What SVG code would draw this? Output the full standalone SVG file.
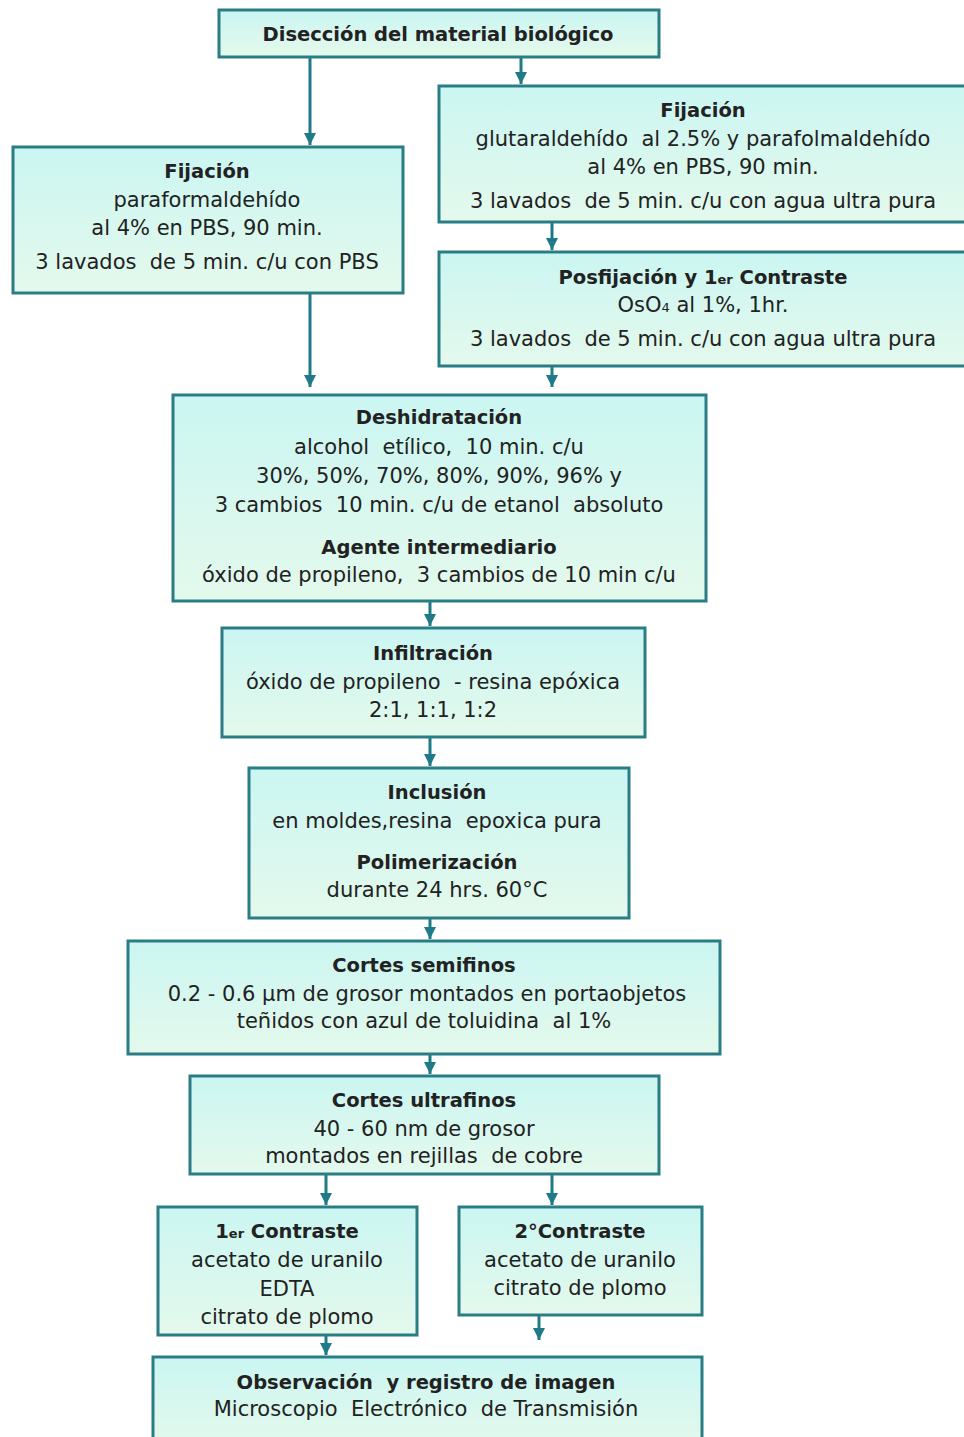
<svg xmlns="http://www.w3.org/2000/svg" width="964" height="1437" viewBox="0 0 964 1437">
<defs>
<linearGradient id="g" x1="0" y1="0" x2="0" y2="1">
<stop offset="0" stop-color="#cbf6f2"/>
<stop offset="1" stop-color="#e4f9ec"/>
</linearGradient>
<marker id="ah" viewBox="0 0 10 10" refX="10" refY="5" markerWidth="12" markerHeight="12" markerUnits="userSpaceOnUse" orient="auto">
<path d="M0,0 L10,5 L0,10 Z" fill="#1f7a88"/>
</marker>
</defs>
<style>
.box{fill:url(#g);stroke:#2b7d85;stroke-width:3}
text{font-family:"DejaVu Sans","Liberation Sans",sans-serif;font-size:21px;fill:#222;text-anchor:middle;white-space:pre}
.b{font-weight:bold;font-size:19.5px}
.c line{stroke:#1f7a88;stroke-width:3;marker-end:url(#ah)}
.s{font-size:13px}
</style>
<rect width="964" height="1437" fill="#fff"/>
<g class="c" id="connectors">
<line x1="310" y1="57" x2="310" y2="145"/>
<line x1="521" y1="57" x2="521" y2="84"/>
<line x1="552" y1="222" x2="552" y2="250"/>
<line x1="310" y1="293" x2="310" y2="387"/>
<line x1="552" y1="366" x2="552" y2="387"/>
<line x1="430" y1="601" x2="430" y2="626"/>
<line x1="430" y1="737" x2="430" y2="766"/>
<line x1="430" y1="918" x2="430" y2="939"/>
<line x1="430" y1="1054" x2="430" y2="1074"/>
<line x1="326" y1="1174" x2="326" y2="1205"/>
<line x1="552" y1="1174" x2="552" y2="1205"/>
<line x1="326" y1="1335" x2="326" y2="1355"/>
<line x1="539" y1="1315" x2="539" y2="1340"/>
</g>
<g id="n1">
<rect class="box" x="219" y="10" width="440" height="47"/>
<text class="b" x="438" y="41">Disección del material biológico</text>
</g>
<g id="n2">
<rect class="box" x="13" y="147" width="390" height="146"/>
<text class="b" x="207" y="178">Fijación</text>
<text x="207" y="207">paraformaldehído</text>
<text x="207" y="235">al 4% en PBS, 90 min.</text>
<text x="207" y="269">3 lavados  de 5 min. c/u con PBS</text>
</g>
<g id="n3">
<rect class="box" x="439" y="86" width="530" height="136"/>
<text class="b" x="703" y="117">Fijación</text>
<text x="703" y="146">glutaraldehído  al 2.5% y parafolmaldehído</text>
<text x="703" y="174">al 4% en PBS, 90 min.</text>
<text x="703" y="208">3 lavados  de 5 min. c/u con agua ultra pura</text>
</g>
<g id="n4">
<rect class="box" x="439" y="252" width="530" height="114"/>
<text class="b" x="703" y="284">Posfijación y 1<tspan class="s">er</tspan> Contraste</text>
<text x="703" y="312">OsO<tspan class="s">4</tspan> al 1%, 1hr.</text>
<text x="703" y="346">3 lavados  de 5 min. c/u con agua ultra pura</text>
</g>
<g id="n5">
<rect class="box" x="173" y="395" width="533" height="206"/>
<text class="b" x="439" y="424">Deshidratación</text>
<text x="439" y="454">alcohol  etílico,  10 min. c/u</text>
<text x="439" y="483">30%, 50%, 70%, 80%, 90%, 96% y</text>
<text x="439" y="512">3 cambios  10 min. c/u de etanol  absoluto</text>
<text class="b" x="439" y="554">Agente intermediario</text>
<text x="439" y="582">óxido de propileno,  3 cambios de 10 min c/u</text>
</g>
<g id="n6">
<rect class="box" x="222" y="628" width="423" height="109"/>
<text class="b" x="433" y="660">Infiltración</text>
<text x="433" y="689">óxido de propileno  - resina epóxica</text>
<text x="433" y="717">2:1, 1:1, 1:2</text>
</g>
<g id="n7">
<rect class="box" x="249" y="768" width="380" height="150"/>
<text class="b" x="437" y="799">Inclusión</text>
<text x="437" y="828">en moldes,resina  epoxica pura</text>
<text class="b" x="437" y="869">Polimerización</text>
<text x="437" y="897">durante 24 hrs. 60°C</text>
</g>
<g id="n8">
<rect class="box" x="128" y="941" width="592" height="113"/>
<text class="b" x="424" y="972">Cortes semifinos</text>
<text x="427" y="1001">0.2 - 0.6 µm de grosor montados en portaobjetos</text>
<text x="424" y="1028">teñidos con azul de toluidina  al 1%</text>
</g>
<g id="n9">
<rect class="box" x="190" y="1076" width="469" height="98"/>
<text class="b" x="424" y="1107">Cortes ultrafinos</text>
<text x="424" y="1136">40 - 60 nm de grosor</text>
<text x="424" y="1163">montados en rejillas  de cobre</text>
</g>
<g id="n10">
<rect class="box" x="158" y="1207" width="259" height="128"/>
<text class="b" x="287" y="1238">1<tspan class="s">er</tspan> Contraste</text>
<text x="287" y="1267">acetato de uranilo</text>
<text x="287" y="1296">EDTA</text>
<text x="287" y="1324">citrato de plomo</text>
</g>
<g id="n11">
<rect class="box" x="459" y="1207" width="243" height="108"/>
<text class="b" x="580" y="1238">2°Contraste</text>
<text x="580" y="1267">acetato de uranilo</text>
<text x="580" y="1295">citrato de plomo</text>
</g>
<g id="n12">
<rect class="box" x="153" y="1357" width="549" height="90"/>
<text class="b" x="426" y="1389">Observación  y registro de imagen</text>
<text x="426" y="1416">Microscopio  Electrónico  de Transmisión</text>
</g>
</svg>
